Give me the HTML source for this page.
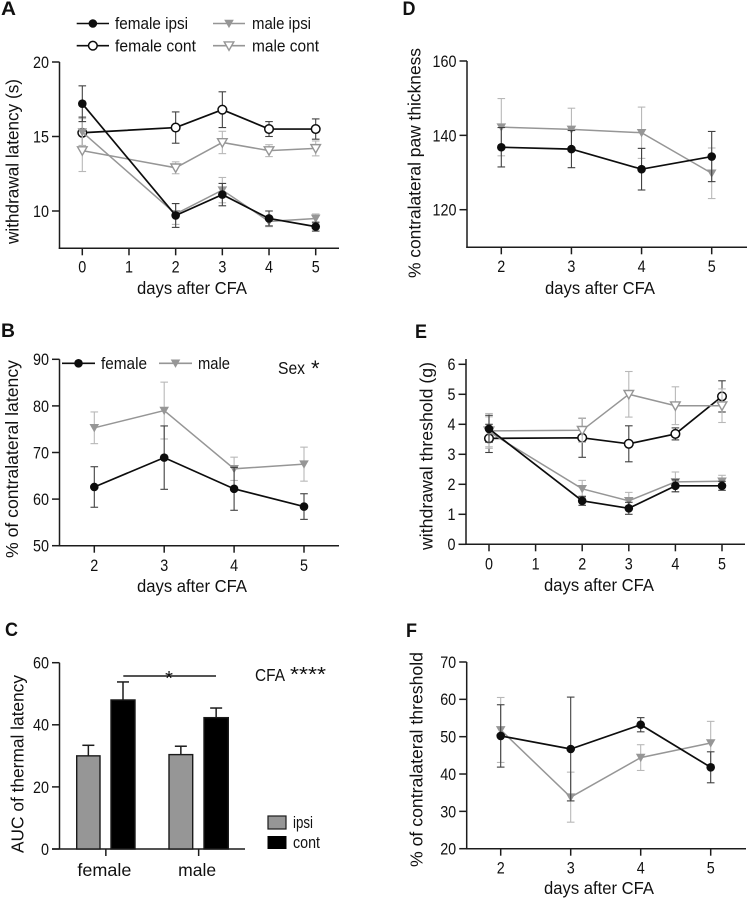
<!DOCTYPE html>
<html lang="en">
<head>
<meta charset="utf-8">
<title>Thermal and mechanical sensitivity after CFA</title>
<style>
html,body{margin:0;padding:0;background:#fff;width:747px;height:900px;overflow:hidden}
svg{display:block}
text{font-family:"Liberation Sans",sans-serif;fill:#111}
</style>
</head>
<body>
<svg id="figure" xmlns="http://www.w3.org/2000/svg" width="747" height="900" viewBox="0 0 747 900"></svg>
<script>
// Panel A
const aDays = [0, 2, 3, 4, 5];
const aFemaleIpsi = [17.2, 9.7, 11.1, 9.5, 8.95];
const aFemaleIpsiErr = [1.2, 0.8, 0.75, 0.5, 0.3];
const aFemaleCont = [15.25, 15.6, 16.8, 15.5, 15.5];
const aFemaleContErr = [1.05, 1.05, 1.2, 0.5, 0.68];
const aMaleIpsi = [15.3, 9.8, 11.4, 9.3, 9.5];
const aMaleIpsiErr = [0.9, 0.7, 0.85, 0.35, 0.3];
const aMaleCont = [14.05, 12.9, 14.6, 14.05, 14.2];
const aMaleContErr = [1.4, 0.4, 0.75, 0.4, 0.5];
const aYTicks = [10, 15, 20];
const aXTicks = [0, 1, 2, 3, 4, 5];
// Panel B
const bDays = [2, 3, 4, 5];
const bFemale = [62.6, 68.9, 62.2, 58.4];
const bFemaleErr = [4.35, 6.8, 4.6, 2.75];
const bMale = [75.3, 79, 66.5, 67.5];
const bMaleErr = [3.4, 6.1, 2.5, 3.65];
const bYTicks = [50, 60, 70, 80, 90];
const bXTicks = [2, 3, 4, 5];
// Panel C
const cGroups = ["female", "male"];
const cIpsi = [30, 30.4];
const cIpsiErr = [3.4, 2.7];
const cCont = [48, 42.3];
const cContErr = [5.8, 3.1];
const cYTicks = [0, 20, 40, 60];
// Panel D
const dDays = [2, 3, 4, 5];
const dFemale = [136.8, 136.3, 130.9, 134.3];
const dFemaleErr = [5.3, 5, 5.6, 6.75];
const dMale = [142.2, 141.6, 140.7, 129.8];
const dMaleErr = [7.7, 5.7, 6.9, 6.8];
const dYTicks = [120, 140, 160];
const dXTicks = [2, 3, 4, 5];
// Panel E
const eDays = [0, 2, 3, 4, 5];
const eFemaleIpsi = [3.85, 1.45, 1.2, 1.95, 1.95];
const eFemaleIpsiErr = [0.45, 0.15, 0.2, 0.2, 0.15];
const eFemaleCont = [3.53, 3.55, 3.35, 3.68, 4.93];
const eFemaleContErr = [0.47, 0.65, 0.6, 0.2, 0.52];
const eMaleIpsi = [3.75, 1.85, 1.45, 2.08, 2.1];
const eMaleIpsiErr = [0.5, 0.28, 0.28, 0.33, 0.2];
const eMaleCont = [3.78, 3.8, 5.0, 4.62, 4.62];
const eMaleContErr = [0.58, 0.4, 0.76, 0.63, 0.56];
const eYTicks = [0, 1, 2, 3, 4, 5, 6];
const eXTicks = [0, 1, 2, 3, 4, 5];
// Panel F
const fDays = [2, 3, 4, 5];
const fFemale = [50.2, 46.7, 53.2, 41.8];
const fFemaleErr = [8.35, 13.9, 1.9, 4.15];
const fMale = [51.8, 33.8, 44.4, 48.3];
const fMaleErr = [8.7, 6.7, 3.45, 5.8];
const fYTicks = [20, 30, 40, 50, 60, 70];
const fXTicks = [2, 3, 4, 5];

const svg = document.getElementById('figure');
const NS = 'http://www.w3.org/2000/svg';
const BLACK = '#0d0d0d', GREY = '#969696', BLACK_ERR = '#404040', GREY_ERR = '#b8b8b8', AXIS = '#1c1c1c';
const AXIS_W = 1.5, TICK_SIZE = 16.5, TITLE_SIZE = 17.5, DIGIT_W = 8;

function node(tag, name, parent, attrs) {
  const el = document.createElementNS(NS, tag);
  
  
  for (const k in attrs) el.setAttribute(k, attrs[k]);
  (parent || svg).appendChild(el);
  return el;
}
function label(str, name, parent, x, y, size, opts) {
  opts = opts || {};
  const attrs = {x: x, y: y, 'font-size': size, 'text-anchor': opts.anchor || 'start'};
  if (opts.len) { attrs.textLength = opts.len; attrs.lengthAdjust = 'spacingAndGlyphs'; }
  if (opts.weight) attrs['font-weight'] = opts.weight;
  if (opts.rotate) attrs.transform = 'rotate(-90 ' + x + ' ' + y + ')';
  const t = node('text', name, parent, attrs);
  t.textContent = str;
  return t;
}
function line(name, parent, x1, y1, x2, y2, stroke, w) {
  return node('line', name, parent, {x1: x1, y1: y1, x2: x2, y2: y2, stroke: stroke, 'stroke-width': w});
}
function linear(v0, p0, v1, p1) {
  return function (v) { return p0 + (v - v0) * (p1 - p0) / (v1 - v0); };
}
function marker(kind, name, parent, x, y) {
  if (kind === 'filled-circle') {
    return node('circle', name, parent, {cx: x, cy: y, r: 4.3, fill: BLACK});
  }
  if (kind === 'open-circle') {
    return node('circle', name, parent, {cx: x, cy: y, r: 4.3, fill: '#fff', stroke: BLACK, 'stroke-width': 1.5});
  }
  const d = 'M' + (x - 4.8) + ' ' + (y - 3.8) + 'L' + (x + 4.8) + ' ' + (y - 3.8) + 'L' + x + ' ' + (y + 4.6) + 'Z';
  if (kind === 'filled-triangle') {
    return node('path', name, parent, {d: d, fill: GREY});
  }
  return node('path', name, parent, {d: d, fill: '#fff', stroke: GREY, 'stroke-width': 1.4});
}
function drawAxes(key, box, xTicks, yTicks) {
  const g = node('g', key + '-axes', null, {});
  const xs = linear(box.xv0, box.xp0, box.xv1, box.xp1);
  const ys = linear(box.yv0, box.yp0, box.yv1, box.yp1);
  line(key + '-y-axis', g, box.axisX, box.top, box.axisX, box.bottom + 0.75, AXIS, AXIS_W);
  line(key + '-x-axis', g, box.axisX - 0.75, box.bottom, box.right, box.bottom, AXIS, AXIS_W);
  yTicks.forEach(function (t) {
    line(key + '-y-tick', g, box.axisX - 7.5, ys(t), box.axisX, ys(t), AXIS, AXIS_W);
    label(String(t), key + '-y-tick-label', g, box.axisX - 10.5, ys(t) + 5.9, TICK_SIZE, {anchor: 'end', len: String(t).length * DIGIT_W});
  });
  xTicks.forEach(function (t) {
    line(key + '-x-tick', g, xs(t), box.bottom, xs(t), box.bottom + 7, AXIS, AXIS_W);
    label(String(t), key + '-x-tick-label', g, xs(t), box.xLabelY, TICK_SIZE, {anchor: 'middle', len: String(t).length * DIGIT_W});
  });
  return {x: xs, y: ys};
}
function drawSeries(key, scale, days, values, errs, kind) {
  const dark = kind.indexOf('circle') >= 0;
  const g = node('g', key + '-series', null, {});
  days.forEach(function (d, i) {
    const x = scale.x(d), hi = scale.y(values[i] + errs[i]), lo = scale.y(values[i] - errs[i]);
    const c = dark ? BLACK_ERR : GREY_ERR;
    line(key + '-error-bar', g, x, hi, x, lo, c, 1.1);
    line(key + '-error-cap-upper', g, x - 3.8, hi, x + 3.8, hi, c, 1.1);
    line(key + '-error-cap-lower', g, x - 3.8, lo, x + 3.8, lo, c, 1.1);
  });
  const pts = days.map(function (d, i) { return scale.x(d) + ',' + scale.y(values[i]); }).join(' ');
  node('polyline', key + '-line', g, {points: pts, fill: 'none', stroke: dark ? BLACK : GREY, 'stroke-width': dark ? 1.7 : 1.5});
  days.forEach(function (d, i) {
    marker(kind, key + '-point', g, scale.x(d), scale.y(values[i]));
  });
}
function legendEntry(name, kind, x1, x2, y, str, tx, len) {
  const g = node('g', name, null, {});
  const dark = kind.indexOf('circle') >= 0;
  line(name + '-line', g, x1, y, x2, y, dark ? BLACK : GREY, 1.6);
  marker(kind, name + '-marker', g, (x1 + x2) / 2, y);
  label(str, name + '-label', g, tx, y + 5.6, 17, {len: len});
}

// ---- Panel A ----
const scaleA = drawAxes('panel-a', {axisX: 59.5, top: 62, bottom: 248.3, right: 339, xv0: 0, xp0: 82.3, xv1: 5, xp1: 315.7, yv0: 10, yp0: 211, yv1: 20, yp1: 62, xLabelY: 272.5}, aXTicks, aYTicks);
drawSeries('a-female-cont', scaleA, aDays, aFemaleCont, aFemaleContErr, 'open-circle');
drawSeries('a-male-cont', scaleA, aDays, aMaleCont, aMaleContErr, 'open-triangle');
drawSeries('a-male-ipsi', scaleA, aDays, aMaleIpsi, aMaleIpsiErr, 'filled-triangle');
drawSeries('a-female-ipsi', scaleA, aDays, aFemaleIpsi, aFemaleIpsiErr, 'filled-circle');
label('A', 'panel-a-letter', null, 1, 15, 19, {weight: 'bold', len: 15});
label('withdrawal latency (s)', 'panel-a-y-title', null, 18.5, 244, TITLE_SIZE, {rotate: true, len: 165});
label('days after CFA', 'panel-a-x-title', null, 137, 294, TITLE_SIZE, {len: 110});
legendEntry('legend-female-ipsi', 'filled-circle', 76.7, 109, 23.5, 'female ipsi', 115, 73);
legendEntry('legend-female-cont', 'open-circle', 76.7, 109, 45.7, 'female cont', 115, 81);
legendEntry('legend-male-ipsi', 'filled-triangle', 213, 245, 23.5, 'male ipsi', 252, 59);
legendEntry('legend-male-cont', 'open-triangle', 213, 245, 45.7, 'male cont', 252, 67);

// ---- Panel B ----
const scaleB = drawAxes('panel-b', {axisX: 59.5, top: 359.3, bottom: 545.7, right: 339, xv0: 2, xp0: 94.3, xv1: 5, xp1: 304, yv0: 50, yp0: 545.7, yv1: 90, yp1: 359.3, xLabelY: 571}, bXTicks, bYTicks);
drawSeries('b-male', scaleB, bDays, bMale, bMaleErr, 'filled-triangle');
drawSeries('b-female', scaleB, bDays, bFemale, bFemaleErr, 'filled-circle');
label('B', 'panel-b-letter', null, 1, 337, 19, {weight: 'bold', len: 14});
label('% of contralateral latency', 'panel-b-y-title', null, 18, 558, TITLE_SIZE, {rotate: true, len: 198});
label('days after CFA', 'panel-b-x-title', null, 137, 592, TITLE_SIZE, {len: 110});
legendEntry('legend-female', 'filled-circle', 62, 95, 363.3, 'female', 101, 46);
legendEntry('legend-male', 'filled-triangle', 159, 192, 363.3, 'male', 198, 32);
label('Sex', 'panel-b-sex-label', null, 278, 374, 17.5, {len: 27});
label('*', 'panel-b-sex-star', null, 311, 376, 22);

// ---- Panel C ----
const cY = linear(0, 849, 60, 662.7);
const cBarXs = [[76.7, 100], [169, 192.7]];
const cContXs = [[111, 135], [204, 228.3]];
const cAxes = node('g', 'panel-c-axes', null, {});
line('panel-c-y-axis', cAxes, 59.5, 662.7, 59.5, 849, AXIS, AXIS_W);
line('panel-c-x-axis', cAxes, 52, 849, 245, 849, AXIS, AXIS_W);
cYTicks.forEach(function (t) {
  line('panel-c-y-tick', cAxes, 52, cY(t), 59.5, cY(t), AXIS, AXIS_W);
  label(String(t), 'panel-c-y-tick-label', cAxes, 49, cY(t) + 5.9, TICK_SIZE, {anchor: 'end', len: String(t).length * DIGIT_W});
});
cGroups.forEach(function (name, i) {
  const g = node('g', 'bars-' + name, null, {});
  const drawBar = function (xr, v, err, fill, suffix) {
    const cx = (xr[0] + xr[1]) / 2;
    line('bar-' + name + '-' + suffix + '-error', g, cx, cY(v), cx, cY(v + err), AXIS, AXIS_W);
    line('bar-' + name + '-' + suffix + '-error-cap', g, cx - 6, cY(v + err), cx + 6, cY(v + err), AXIS, AXIS_W);
    node('rect', 'bar-' + name + '-' + suffix, g, {x: xr[0], y: cY(v), width: xr[1] - xr[0], height: 849 - cY(v), fill: fill, stroke: '#1a1a1a', 'stroke-width': 1.4});
  };
  drawBar(cBarXs[i], cIpsi[i], cIpsiErr[i], '#969696', 'ipsi');
  drawBar(cContXs[i], cCont[i], cContErr[i], '#000', 'cont');
  const mid = (cBarXs[i][0] + cContXs[i][1]) / 2;
  line('panel-c-x-tick', cAxes, mid, 849, mid, 856, AXIS, AXIS_W);
  label(name, 'panel-c-x-label', cAxes, mid - 1.5, 876, 17.5, {anchor: 'middle', len: i === 0 ? 54 : 38});
});
line('significance-bar', null, 123.3, 676, 216, 676, AXIS, AXIS_W);
label('*', 'significance-star', null, 169, 685, 20, {anchor: 'middle'});
label('C', 'panel-c-letter', null, 5, 636, 19, {weight: 'bold', len: 13});
label('AUC of thermal latency', 'panel-c-y-title', null, 23.5, 853, TITLE_SIZE, {rotate: true, len: 178});
label('CFA', 'panel-c-cfa-label', null, 255, 681, 17.5, {len: 30});
label('****', 'panel-c-cfa-stars', null, 290, 681, 20, {len: 36});
node('rect', 'legend-ipsi-swatch', null, {x: 268, y: 816, width: 18, height: 13, fill: '#969696', stroke: '#1a1a1a', 'stroke-width': 1.2});
label('ipsi', 'legend-ipsi-label', null, 293, 828, 16.5, {len: 20});
node('rect', 'legend-cont-swatch', null, {x: 267.5, y: 836, width: 19, height: 13, fill: '#000'});
label('cont', 'legend-cont-label', null, 293, 848, 16.5, {len: 27});

// ---- Panel D ----
const scaleD = drawAxes('panel-d', {axisX: 467, top: 61, bottom: 247.3, right: 747, xv0: 2, xp0: 501.3, xv1: 5, xp1: 711.7, yv0: 120, yp0: 209.7, yv1: 160, yp1: 61, xLabelY: 272}, dXTicks, dYTicks);
drawSeries('d-male', scaleD, dDays, dMale, dMaleErr, 'filled-triangle');
drawSeries('d-female', scaleD, dDays, dFemale, dFemaleErr, 'filled-circle');
label('D', 'panel-d-letter', null, 402.5, 15, 19, {weight: 'bold', len: 13});
label('% contralateral paw thickness', 'panel-d-y-title', null, 420.5, 278, TITLE_SIZE, {rotate: true, len: 230});
label('days after CFA', 'panel-d-x-title', null, 545, 294, TITLE_SIZE, {len: 110});

// ---- Panel E ----
const scaleE = drawAxes('panel-e', {axisX: 466, top: 359, bottom: 544.3, right: 745, xv0: 0, xp0: 489, xv1: 5, xp1: 722, yv0: 0, yp0: 544.3, yv1: 6, yp1: 364.3, xLabelY: 569.5}, eXTicks, eYTicks);
drawSeries('e-female-cont', scaleE, eDays, eFemaleCont, eFemaleContErr, 'open-circle');
drawSeries('e-male-cont', scaleE, eDays, eMaleCont, eMaleContErr, 'open-triangle');
drawSeries('e-male-ipsi', scaleE, eDays, eMaleIpsi, eMaleIpsiErr, 'filled-triangle');
drawSeries('e-female-ipsi', scaleE, eDays, eFemaleIpsi, eFemaleIpsiErr, 'filled-circle');
label('E', 'panel-e-letter', null, 415, 338, 19, {weight: 'bold', len: 12});
label('withdrawal threshold (g)', 'panel-e-y-title', null, 432.5, 550, TITLE_SIZE, {rotate: true, len: 188});
label('days after CFA', 'panel-e-x-title', null, 544, 591, TITLE_SIZE, {len: 110});

// ---- Panel F ----
const scaleF = drawAxes('panel-f', {axisX: 466.7, top: 662, bottom: 848.7, right: 746, xv0: 2, xp0: 500.7, xv1: 5, xp1: 710.7, yv0: 20, yp0: 848.7, yv1: 70, yp1: 662, xLabelY: 873.5}, fXTicks, fYTicks);
drawSeries('f-male', scaleF, fDays, fMale, fMaleErr, 'filled-triangle');
drawSeries('f-female', scaleF, fDays, fFemale, fFemaleErr, 'filled-circle');
label('F', 'panel-f-letter', null, 406, 637, 19, {weight: 'bold', len: 11});
label('% of contralateral  threshold', 'panel-f-y-title', null, 422.5, 867, TITLE_SIZE, {rotate: true, len: 215});
label('days after CFA', 'panel-f-x-title', null, 544, 894, TITLE_SIZE, {len: 110});
</script>
</body>
</html>
